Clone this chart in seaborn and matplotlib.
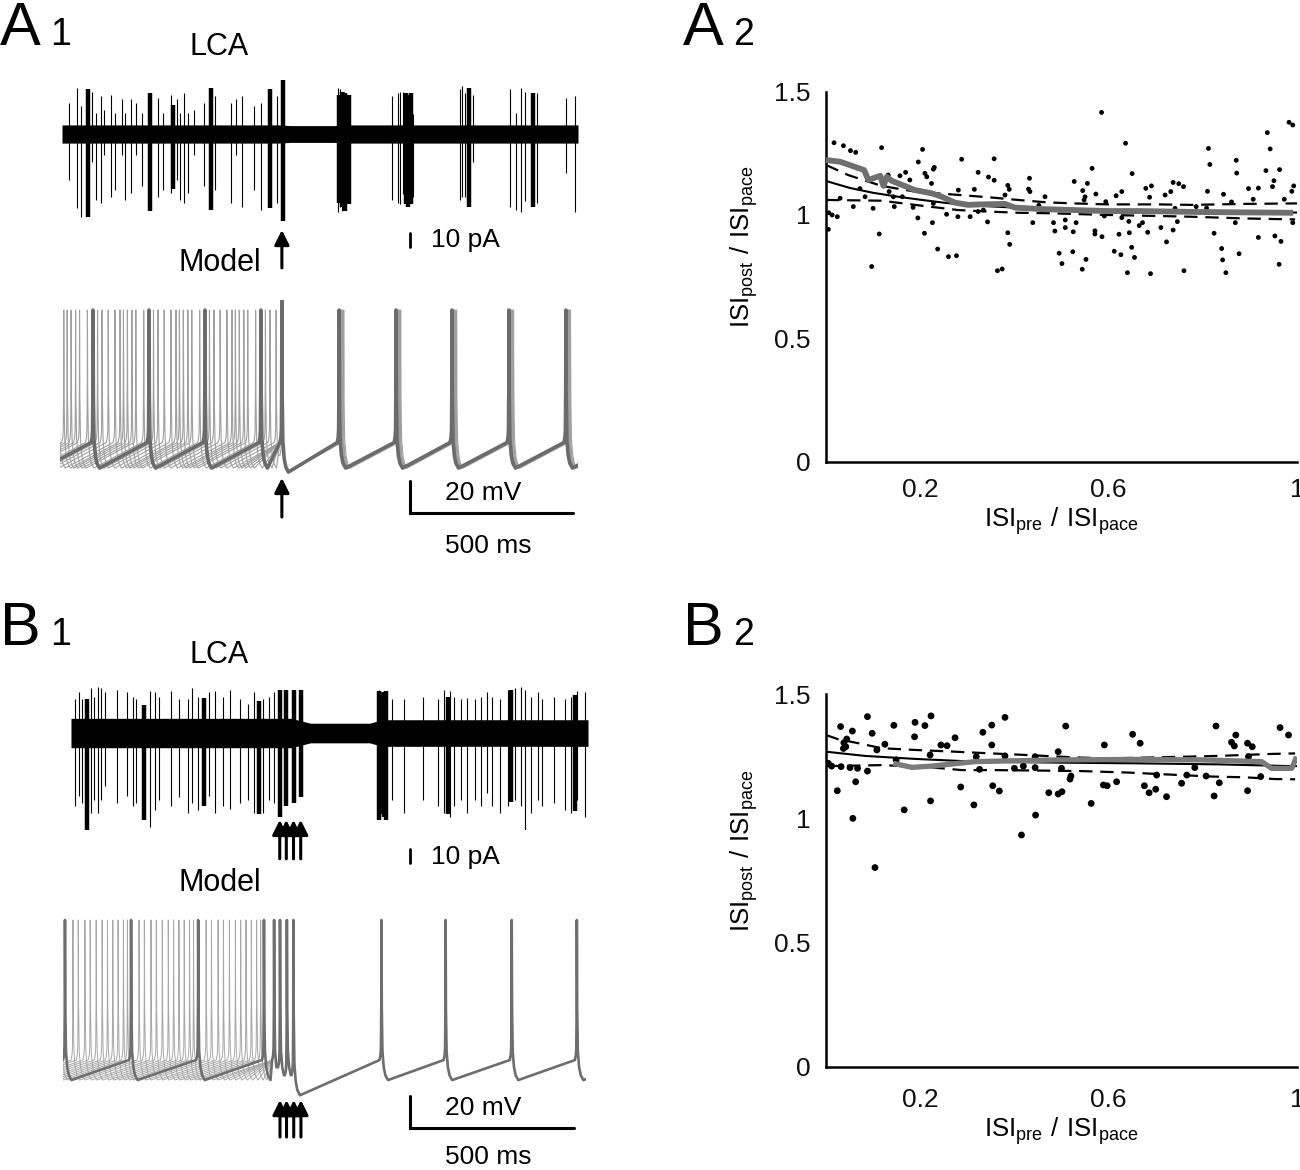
import matplotlib
matplotlib.use("Agg")
import matplotlib.pyplot as plt
import seaborn as sns

W, H = 1300, 1170

# ---------------- LCA recordings (ms, pA) ----------------
lca_a_band_t = [0, 660, 700, 830, 870, 1577]
lca_a_band_hw = [6.5, 6.5, 6, 6, 6.5, 6.5]
lca_a_thin_t = [21, 45, 57, 92, 104, 118, 127, 151, 162, 184, 192, 210, 227, 243, 292, 310, 333, 351, 362, 374,
                386, 404, 433, 468, 515, 533, 551, 586, 609, 657, 842, 850, 857, 862, 1009, 1027, 1033, 1042, 1051,
                1074, 1215, 1224, 1233, 1256, 1368, 1386, 1403, 1415, 1451, 1539, 1568]
lca_a_thin_up = [22, 33, 20, 30, 15, 27, 17, 28, 15, 25, 15, 25, 22, 15, 26, 15, 28, 25, 15, 29,
                 15, 17, 22, 27, 22, 25, 27, 20, 22, 27, 33, 32, 29, 30, 27, 29, 30, 30, 24, 14,
                 32, 34, 29, 28, 32, 15, 33, 30, 29, 26, 27]
lca_a_thin_down = [33, 53, 59, 20, 47, 49, 15, 45, 40, 15, 47, 42, 15, 37, 45, 40, 42, 33, 47, 49,
                   42, 15, 37, 40, 49, 15, 52, 40, 54, 49, 56, 52, 55, 48, 47, 49, 50, 43, 50, 45,
                   47, 45, 45, 20, 52, 54, 56, 48, 49, 28, 56]
lca_a_thick_t = [78, 268, 339, 454, 635, 674, 846, 856, 866, 876, 1050, 1058, 1066, 1243, 1440]
lca_a_thick_up = [32, 29, 21, 33, 32, 40, 28, 30, 29, 28, 29, 28, 29, 33, 29]
lca_a_thick_down = [59, 55, 39, 54, 53, 62, 49, 52, 55, 50, 50, 52, 50, 52, 52]

lca_b_band_t = [28, 700, 760, 940, 980, 1608]
lca_b_band_hw = [10.5, 10.5, 7, 7, 9.5, 9.5]
lca_b_thin_t = [39, 51, 63, 90, 98, 110, 121, 133, 168, 198, 216, 227, 268, 286, 298, 333, 357, 386, 398, 415,
                451, 468, 492, 515, 545, 568, 586, 615, 633, 647, 968, 974, 992, 1009, 1045, 1104, 1151, 1168,
                1186, 1198, 1221, 1239, 1262, 1280, 1298, 1315, 1339, 1362, 1386, 1404, 1415, 1433, 1456, 1468,
                1503, 1539, 1556, 1574, 1598]
lca_b_thin_up = [24, 29, 24, 32, 26, 33, 32, 29, 31, 29, 26, 24, 30, 29, 26, 30, 24, 24, 32, 26,
                 29, 30, 26, 31, 24, 21, 29, 24, 26, 29, 31, 29, 26, 24, 24, 26, 24, 31, 30, 26,
                 24, 25, 24, 26, 29, 26, 24, 31, 32, 33, 31, 26, 29, 24, 26, 24, 26, 30, 29]
lca_b_thin_down = [52, 45, 50, 57, 48, 57, 48, 38, 50, 45, 52, 50, 67, 55, 48, 52, 46, 57, 50, 55,
                   45, 57, 52, 54, 50, 48, 57, 57, 48, 50, 57, 52, 58, 48, 57, 48, 52, 57, 60, 52,
                   48, 57, 48, 52, 43, 52, 57, 52, 48, 52, 71, 57, 48, 52, 50, 55, 57, 48, 60]
lca_b_thick_t = [78, 251, 433, 604, 666, 686, 708, 730, 968, 976, 984, 992, 1180, 1372, 1568]
lca_b_thick_up = [24, 20, 25, 23, 31, 31, 31, 31, 30, 28, 29, 30, 26, 31, 27]
lca_b_thick_down = [70, 62, 52, 58, 60, 52, 50, 46, 62, 58, 60, 62, 58, 49, 56]

# ---------------- model spike times (ms) ----------------
stim_a = [672]
model_a_pre = [-77, 95, 266, 437, 608]
model_a_post = [847, 1021, 1192, 1366, 1540, 1714]
period_a = 172
phase_a = [0.08, 0.16, 0.27, 0.39, 0.48, 0.54, 0.61, 0.69, 0.76, 0.9]
shift_a = [4, 9, 14, 2, 6, 1, 8, 3, 0, 11]

stim_b = [666, 686, 708, 730]
model_b_stim = [648, 666, 687, 707]
model_b_pre = [-194, 9, 211, 416, 617]
model_b_post = [976, 1172, 1374, 1573, 1772]
period_b = 203
phase_b = [0.12, 0.2, 0.3, 0.38, 0.47, 0.56, 0.64, 0.72, 0.8, 0.88, 0.94]

# ---------------- phase plots ----------------
a2_x = [.017, .037, .052, .063, .118, .205, .196, .288, .230, .228, .210, .214, .169, .157, .178, .132, .224, .323,
        .315, .281, .072, .083, .030, .058, .100, .134, .143, .145, .162, .185, .228, .256, .280, .306, .323, .006,
        .013, .024, .005, .113, .195, .209, .226, .237, .260, .277, .097,
        .585, .636, .357, .345, .357, .565, .650, .386, .389, .432, .430, .433, .527, .555, .545, .550, .548, .573,
        .616, .628, .380, .465, .452, .334, .343, .439, .483, .486, .508, .508, .525, .531, .571, .571, .586, .594,
        .622, .628, .643, .644, .665, .649, .655, .612, .626, .640, .495, .501, .524, .552, .544, .386, .390, .364,
        .374, .591,
        .983, .991, .937, .943, .812, .815, .871, .872, .934, .963, .951, .948, .989, .993, .973, .897, .918, .907,
        .844, .810, .861, .679, .691, .687, .737, .749, .759, .732, .720, .741, .746, .737, .711, .723, .683, .672,
        .786, .808, .824, .840, .842, .849, .877, .869, .918, .953, .966, .962, .991, .689, .760]
a2_y = [1.293, 1.281, 1.261, 1.254, 1.273, 1.266, 1.215, 1.226, 1.193, 1.186, 1.169, 1.155, 1.173, 1.159, 1.142,
        1.162, 1.128, 1.173, 1.104, 1.101, 1.107, 1.074, 1.068, 1.034, 1.027, 1.095, 1.074, 1.034, 1.074, 1.031,
        1.047, 1.003, .993, .993, 1.014, 1.009, 1.0, .993, .942, .923, .988, .926, .969, .862, .831, .835, .791,
        1.416, 1.291, 1.228, 1.154, 1.141, 1.189, 1.168, 1.120, 1.104, 1.149, 1.105, 1.095, 1.136, 1.128, 1.099,
        1.074, 1.061, 1.085, 1.078, 1.095, 1.081, 1.074, 1.039, 1.020, .972, .969, .969, .935, .980, .949, .932,
        .969, .936, .923, .912, 1.054, .922, .989, .974, .928, .957, .869, .828, .853, .839, .766, .845, .803,
        .851, .820, .780, .928, .881, .774, .781, .996,
        1.376, 1.365, 1.334, 1.268, 1.270, 1.205, 1.222, 1.170, 1.180, 1.184, 1.139, 1.115, 1.096, 1.118, 1.064,
        1.107, 1.109, 1.064, 1.084, 1.096, 1.053, 1.108, 1.118, 1.072, 1.132, 1.127, 1.115, 1.095, 1.081, 1.027,
        .973, .939, .949, .891, .930, .969, 1.034, 1.028, .926, .864, .818, .766, .843, .969, .909, .915, .893,
        .800, .969, .762, .774]
a2_smooth_x = [0.0, .03, .081, .09, .115, .122, .129, .139, .189, .224, .246, .274, .302, .327, .38, .401, .458,
               .528, .599, .667, .797, .992]
a2_smooth_y = [1.223, 1.216, 1.182, 1.142, 1.159, 1.118, 1.155, 1.139, 1.101, 1.088, 1.074, 1.05, 1.041, 1.043,
               1.045, 1.03, 1.024, 1.02, 1.016, 1.016, 1.012, 1.009]
a2_fit_x = [0, .05, .1, .15, .2, .25, .3, .4, .5, .6, .8, 1.0]
a2_fit_y = [1.138, 1.11, 1.09, 1.075, 1.062, 1.05, 1.04, 1.03, 1.022, 1.017, 1.012, 1.01]
a2_hi_x = [0, .047, .118, .189, .345, .408, .47, .527, .598, .705, .776, .89, 1.0]
a2_hi_y = [1.203, 1.162, 1.118, 1.095, 1.072, 1.061, 1.051, 1.047, 1.043, 1.043, 1.041, 1.045, 1.047]
a2_lo_x = [0, .118, .189, .281, .345, .408, .478, .528, .599, .705, .776, .89, .996]
a2_lo_y = [1.061, 1.058, 1.041, 1.02, 1.014, 1.009, 1.007, 1.004, 1.0, .996, .993, .986, .982]

b2_x = [.088, .031, .056, .098, .044, .038, .042, .037, .125, .108, .144, .189, .210, .223, .188, .244, .257, .274,
        .221, .005, .012, .032, .051, .067, .088, .149, .024, .063, .057, .104, .166, .222, .286, .314, .326, .319,
        .380, .352, .333, .352, .380, .354, .368, .415, .445, .400, .419, .444, .444, .493, .500, .473, .493, .501,
        .518, .520, .509, .591, .589, .597, .617, .563, .651, .667,
        .828, .870, .861, .867, .895, .905, .964, .982, .897, .783, .702, .766, .807, .835, .923, .676, .686, .700,
        .723, .755, .824, .895]
b2_y = [1.409, 1.369, 1.351, 1.342, 1.319, 1.304, 1.288, 1.281, 1.298, 1.275, 1.374, 1.386, 1.373, 1.412, 1.328,
        1.295, 1.292, 1.324, 1.255, 1.221, 1.210, 1.208, 1.204, 1.201, 1.190, 1.235, 1.111, 1.147, 1.0, .802, 1.034,
        1.070, 1.126, 1.054, 1.197, 1.248,
        1.406, 1.375, 1.346, 1.295, 1.251, 1.131, 1.110, .933, 1.013, 1.201, 1.210, 1.248, 1.204, 1.268, 1.201,
        1.103, 1.098, 1.107, 1.158, 1.170, 1.371, 1.295, 1.134, 1.131, 1.147, 1.060, 1.338, 1.302,
        1.371, 1.335, 1.306, 1.291, 1.302, 1.288, 1.365, 1.335, 1.248, 1.204, 1.174, 1.174, 1.170, 1.143, 1.168,
        1.131, 1.103, 1.117, 1.087, 1.141, 1.090, 1.111]
b2_smooth_x = [.143, .182, .224, .316, .493, .667, .8, .925, .946, .989, .999]
b2_smooth_y = [1.221, 1.205, 1.21, 1.228, 1.235, 1.237, 1.235, 1.228, 1.201, 1.201, 1.248]
b2_fit_x = [0, .083, .189, .316, .493, .667, .833, .989, 1.0]
b2_fit_y = [1.268, 1.251, 1.239, 1.228, 1.224, 1.221, 1.217, 1.21, 1.21]
b2_hi_x = [0, .026, .069, .118, .189, .274, .352, .422, .529, .6, .698, .833, .946, .996]
b2_hi_y = [1.335, 1.318, 1.302, 1.282, 1.275, 1.268, 1.261, 1.255, 1.245, 1.241, 1.245, 1.251, 1.259, 1.261]
b2_lo_x = [0, .118, .224, .288, .352, .458, .543, .642, .708, .819, .889, .953, .996]
b2_lo_y = [1.21, 1.214, 1.205, 1.194, 1.194, 1.192, 1.19, 1.184, 1.178, 1.168, 1.165, 1.158, 1.157]

# spike waveform shape (ms after / before a spike)
FALL_DT = [1, 3, 7, 12, 20]
FALL_FRAC = [0.55, 0.82, 0.92, 0.97, 1.0]
RISE_DT = [6, 3, 1.5, 0.5]
RISE_DV = [0, 3, 8, 35]

sns.set_style("white")
plt.rcParams['font.family'] = ['Liberation Sans', 'DejaVu Sans']
plt.rcParams['mathtext.fontset'] = 'custom'
plt.rcParams['mathtext.rm'] = 'Liberation Sans'
plt.rcParams['text.color'] = 'black'
plt.rcParams['axes.labelcolor'] = 'black'


def add_ax(fig, left, top, right, bottom):
    return fig.add_axes([left / W, 1 - bottom / H, (right - left) / W, (bottom - top) / H])


def ftext(fig, x, y, s, **kw):
    fig.text(x / W, 1 - y / H, s, **kw)


def build_trace(spikes, troughs, peaks, thr):
    ts, vs = [], []
    for i in range(len(spikes) - 1):
        s0, s1 = spikes[i], spikes[i + 1]
        ts.append(s0)
        vs.append(peaks[i])
        full = True
        for dt, fr in zip(FALL_DT, FALL_FRAC):
            if s0 + dt < s1 - RISE_DT[0]:
                ts.append(s0 + dt)
                vs.append(peaks[i] - fr * (peaks[i] - troughs[i]))
            else:
                full = False
        base = thr if full else vs[-1]
        for dt, dv in zip(RISE_DT, RISE_DV):
            ts.append(s1 - dt)
            vs.append(base + dv)
    ts.append(spikes[-1])
    vs.append(peaks[-1])
    return ts, vs


def draw_lca(ax, band_t, band_hw, thin_t, thin_up, thin_down, thick_t, thick_up, thick_down):
    ax.fill_between(band_t, [-h for h in band_hw], band_hw, color='black', lw=0)
    ax.vlines(thin_t, [-d for d in thin_down], thin_up, color='black', lw=0.8)
    ax.vlines(thick_t, [-d for d in thick_down], thick_up, color='black', lw=3.2)


def arrow(ax, x, y_tip, y_tail):
    ax.annotate('', xy=(x, y_tip), xytext=(x, y_tail), annotation_clip=False,
                arrowprops=dict(arrowstyle='-|>', color='black', lw=2.2, mutation_scale=22,
                                shrinkA=0, shrinkB=0))


def phase_panel(ax, px, py, sx, sy, fx, fy, hx, hy, lx, ly, dot, gw, gcol):
    sns.scatterplot(x=px, y=py, ax=ax, color='black', s=dot, edgecolor='none', zorder=3)
    sns.lineplot(x=hx, y=hy, ax=ax, color='black', lw=1.6, linestyle=(0, (6, 3.5)), estimator=None, zorder=4)
    sns.lineplot(x=lx, y=ly, ax=ax, color='black', lw=1.6, linestyle=(0, (6, 3.5)), estimator=None, zorder=4)
    sns.lineplot(x=fx, y=fy, ax=ax, color='black', lw=1.5, estimator=None, zorder=4)
    sns.lineplot(x=sx, y=sy, ax=ax, color=gcol, lw=gw, estimator=None, sort=False, zorder=5,
                 solid_capstyle='butt')
    ax.set_xlim(0, 1)
    ax.set_ylim(0, 1.5)
    sns.despine(ax=ax)
    for s in ['left', 'bottom']:
        ax.spines[s].set_linewidth(1.8)
        ax.spines[s].set_color('black')
    ax.set_yticks([0, 0.5, 1, 1.5])
    ax.set_yticklabels(['0', '0.5', '1', '1.5'])
    ax.set_xticks([0.2, 0.4, 0.6, 0.8, 1.0])
    ax.set_xticklabels(['0.2', '', '0.6', '', '1'])
    ax.tick_params(direction='out', length=7, width=1.8, labelsize=19, color='black', labelcolor='#111111')
    ax.tick_params(axis='y', pad=4)
    ax.tick_params(axis='x', pad=5)
    ax.set_ylabel(r'$\mathregular{ISI_{post}\ /\ ISI_{pace}}$', fontsize=18.5)
    ax.set_xlabel(r'$\mathregular{ISI_{pre}\ /\ ISI_{pace}}$', fontsize=18.5)
    ax.yaxis.set_label_coords(-0.14, 0.58)


fig = plt.figure(figsize=(W / 100, H / 100), dpi=100)

# ================= A1 =================
ax = add_ax(fig, 62, 80, 578, 230)
ax.set_xlim(0, 1577)
ax.set_ylim(-68.6, 38.6)
ax.axis('off')
draw_lca(ax, lca_a_band_t, lca_a_band_hw, lca_a_thin_t, lca_a_thin_up, lca_a_thin_down,
         lca_a_thick_t, lca_a_thick_up, lca_a_thick_down)
arrow(ax, stim_a[0], -68.6, -95.7)
ax.plot([1063, 1063], [-71, -81], color='black', lw=2, clip_on=False)

ax = add_ax(fig, 60, 300, 578, 560)
ax.set_xlim(-6, 1577)
ax.set_ylim(-126.6, 36.3)
ax.axis('off')
trough_a, trough_a_post, thr_a, peak_a, peak_a_stim = -69, -71.5, -53, 30, 36
for ph, sh in zip(phase_a, shift_a):
    pre = [s + ph * period_a for s in [model_a_pre[0] - period_a] + model_a_pre]
    pre = [s for s in pre if s < stim_a[0] - 10]
    post = [s + sh for s in model_a_post]
    spk = pre + stim_a + post
    tr = [trough_a] * len(pre) + [trough_a_post] + [trough_a] * (len(post) - 1)
    pk = [peak_a] * len(pre) + [peak_a_stim] + [peak_a] * len(post)
    t, v = build_trace(spk, tr, pk, thr_a)
    sns.lineplot(x=t, y=v, ax=ax, color='#a0a0a0', lw=0.8, estimator=None, sort=False)
spk = model_a_pre + stim_a + model_a_post
tr = [trough_a] * len(model_a_pre) + [trough_a_post] + [trough_a] * (len(model_a_post) - 1)
pk = [peak_a] * len(model_a_pre) + [peak_a_stim] + [peak_a] * len(model_a_post)
t, v = build_trace(spk, tr, pk, thr_a)
sns.lineplot(x=t, y=v, ax=ax, color='#6b6b6b', lw=2.6, estimator=None, sort=False)
arrow(ax, stim_a[0], -75.2, -99.7)
ax.plot([1063, 1063, 1563], [-77.1, -97.1, -97.1], color='black', lw=2.2, clip_on=False,
        solid_joinstyle='miter')

# ================= B1 =================
ax = add_ax(fig, 71, 680, 588, 830)
ax.set_xlim(28, 1608)
ax.set_ylim(-69.3, 37.9)
ax.axis('off')
draw_lca(ax, lca_b_band_t, lca_b_band_hw, lca_b_thin_t, lca_b_thin_up, lca_b_thin_down,
         lca_b_thick_t, lca_b_thick_up, lca_b_thick_down)
for s in stim_b:
    arrow(ax, s, -62.1, -89.9)
ax.plot([1063, 1063], [-83, -93], color='black', lw=2, clip_on=False)

ax = add_ax(fig, 63, 905, 586, 1170)
ax.set_xlim(3, 1601)
ax.set_ylim(-126.2, 39.4)
ax.axis('off')
trough_b, trough_b_post, thr_b, peak_b = -70, -79.5, -57.5, 30
for ph in phase_b:
    pre = [s + ph * period_b for s in [model_b_pre[0] - period_b] + model_b_pre]
    pre = [s for s in pre if s < model_b_stim[0] - 10]
    spk = pre + model_b_stim + model_b_post
    tr = ([trough_b] * len(pre) + [trough_b] * (len(model_b_stim) - 1) + [trough_b_post]
          + [trough_b] * (len(model_b_post) - 1))
    t, v = build_trace(spk, tr, [peak_b] * len(spk), thr_b)
    sns.lineplot(x=t, y=v, ax=ax, color='#a8a8a8', lw=0.7, estimator=None, sort=False)
spk = model_b_pre + model_b_stim + model_b_post
tr = ([trough_b] * len(model_b_pre) + [trough_b] * (len(model_b_stim) - 1) + [trough_b_post]
      + [trough_b] * (len(model_b_post) - 1))
t, v = build_trace(spk, tr, [peak_b] * len(spk), thr_b)
sns.lineplot(x=t, y=v, ax=ax, color='#6e6e6e', lw=1.9, estimator=None, sort=False)
for s in stim_b:
    arrow(ax, s, -82.5, -105.6)
ax.plot([1063, 1063, 1563], [-80, -100, -100], color='black', lw=2.2, clip_on=False,
        solid_joinstyle='miter')

# ================= A2 / B2 =================
ax = add_ax(fig, 826, 91.7, 1297, 461.6)
phase_panel(ax, a2_x, a2_y, a2_smooth_x, a2_smooth_y, a2_fit_x, a2_fit_y, a2_hi_x, a2_hi_y,
            a2_lo_x, a2_lo_y, dot=12, gw=4.2, gcol='#6f6f6f')
ax.xaxis.set_label_coords(0.5, -0.118)

ax = add_ax(fig, 826, 694, 1297, 1067)
phase_panel(ax, b2_x, b2_y, b2_smooth_x, b2_smooth_y, b2_fit_x, b2_fit_y, b2_hi_x, b2_hi_y,
            b2_lo_x, b2_lo_y, dot=24, gw=3.8, gcol='#7a7a7a')
ax.tick_params(axis='x', pad=8)
ax.xaxis.set_label_coords(0.5, -0.13)

# ================= text =================
for lx, ly, big, small in [(0, 45, 'A', '1'), (683, 45, 'A', '2'), (0, 645, 'B', '1'), (683, 645, 'B', '2')]:
    ftext(fig, lx, ly, big, fontsize=44, va='baseline', ha='left')
    ftext(fig, lx + 50, ly, small, fontsize=27, va='baseline', ha='left')

ftext(fig, 219, 47, 'LCA', fontsize=22, ha='center', va='center')
ftext(fig, 219, 655, 'LCA', fontsize=22, ha='center', va='center')
ftext(fig, 220, 263, 'Model', fontsize=22, ha='center', va='center')
ftext(fig, 220, 883, 'Model', fontsize=22, ha='center', va='center')
ftext(fig, 431, 240, '10 pA', fontsize=19, ha='left', va='center')
ftext(fig, 431, 857, '10 pA', fontsize=19, ha='left', va='center')
ftext(fig, 483, 493, '20 mV', fontsize=19, ha='center', va='center')
ftext(fig, 483, 1108, '20 mV', fontsize=19, ha='center', va='center')
ftext(fig, 488, 546, '500 ms', fontsize=19, ha='center', va='center')
ftext(fig, 488, 1157, '500 ms', fontsize=19, ha='center', va='center')

fig.savefig('out.png', dpi=100)
